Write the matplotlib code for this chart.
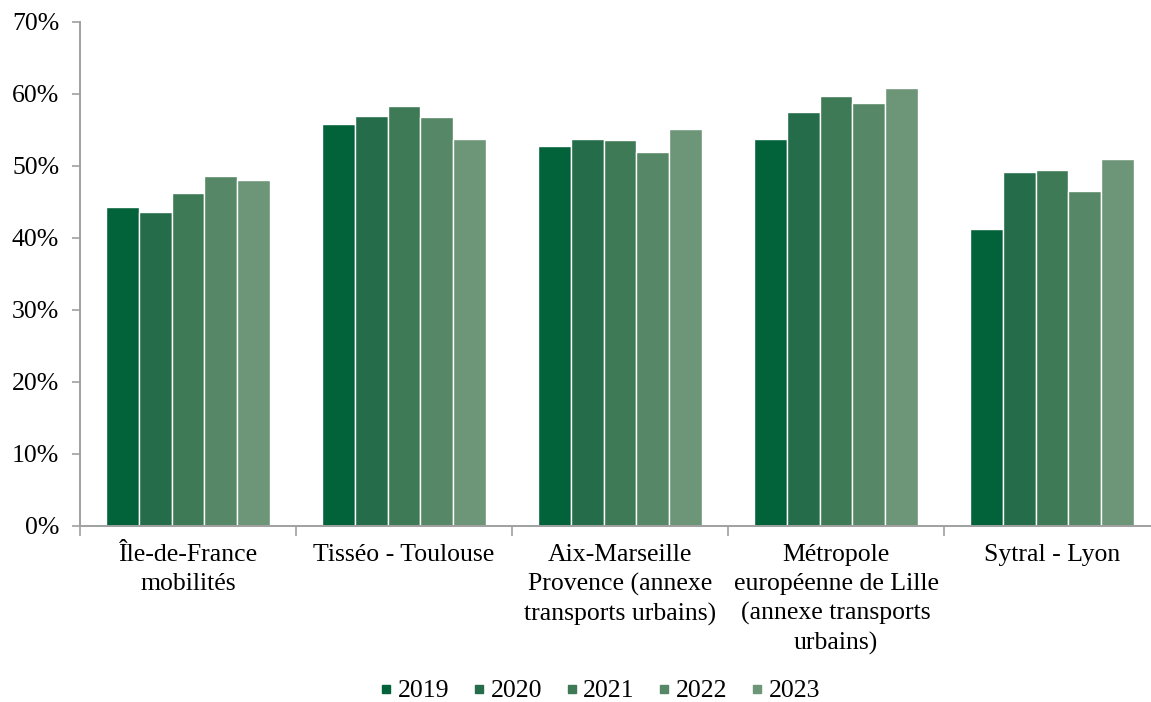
import numpy as np
import matplotlib.pyplot as plt
from matplotlib.lines import Line2D
from matplotlib.ticker import PercentFormatter

plt.rcParams['font.family'] = ['Liberation Serif', 'DejaVu Serif']

# data
categories = ['Île-de-France\nmobilités',
              'Tisséo - Toulouse',
              'Aix-Marseille\nProvence (annexe\ntransports urbains)',
              'Métropole\neuropéenne de Lille\n(annexe transports\nurbains)',
              'Sytral - Lyon']
years = ['2019', '2020', '2021', '2022', '2023']
v2019 = [44.3, 55.9, 52.8, 53.7, 41.2]
v2020 = [43.6, 57.0, 53.8, 57.5, 49.2]
v2021 = [46.2, 58.4, 53.6, 59.7, 49.4]
v2022 = [48.6, 56.8, 51.9, 58.7, 46.5]
v2023 = [48.1, 53.8, 55.1, 60.9, 51.0]
series = [v2019, v2020, v2021, v2022, v2023]
colors = ['#02633A', '#256D4A', '#3D7A55', '#568766', '#6D9578']

fig = plt.figure(figsize=(11.51, 7.02), dpi=100)
ax = fig.add_axes([80 / 1151, 1 - 526 / 702, 1080 / 1151, 504 / 702])

x = np.arange(len(categories))
slot = 0.152
for i, (vals, c) in enumerate(zip(series, colors)):
    ax.bar(x + (i - 2) * slot, vals, width=slot, color=c,
           edgecolor='white', linewidth=1.0, label=years[i], zorder=2)

ax.set_xlim(-0.5, len(categories) - 0.5)
ax.set_ylim(0, 70)
ax.set_yticks(np.arange(0, 71, 10))
ax.yaxis.set_major_formatter(PercentFormatter(decimals=0))

ax.set_xticks(x)
ax.set_xticklabels(categories, fontsize=18.5, linespacing=1.4, va='top')
ax.set_xticks(np.arange(-0.5, len(categories), 1), minor=True)
ax.tick_params(axis='x', which='major', length=0, pad=13)
ax.tick_params(axis='x', which='minor', length=7, width=1.2, color='#A0A0A0', direction='out')
ax.tick_params(axis='y', length=6, width=1.2, color='#A0A0A0', labelsize=18.5, pad=9)

for s in ['top', 'right']:
    ax.spines[s].set_visible(False)
for s in ['left', 'bottom']:
    ax.spines[s].set_color('#A0A0A0')
    ax.spines[s].set_linewidth(1.4)

handles = [Line2D([0], [0], marker='s', linestyle='none', markersize=6,
                  markerfacecolor=c, markeredgecolor=c) for c in colors]
fig.legend(handles, years, loc='center', bbox_to_anchor=(598 / 1151, 1 - 691 / 702),
           ncol=5, frameon=False, fontsize=18.5, handletextpad=0.05,
           columnspacing=0.75, handlelength=0.8)

fig.savefig('out.png', dpi=100)
